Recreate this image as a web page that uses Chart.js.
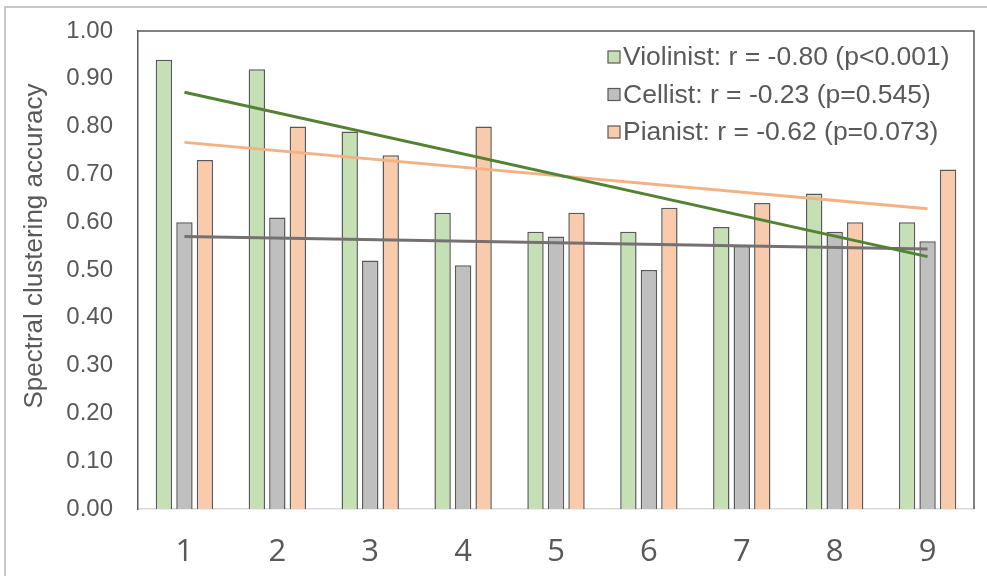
<!DOCTYPE html>
<html><head><meta charset="utf-8">
<script src="https://cdn.jsdelivr.net/npm/chart.js@4"></script>
<style>html,body{margin:0;padding:0;background:#fff;overflow:hidden;}</style>
</head><body>
<canvas id="c" width="987" height="576" style="display:block;width:987px;height:576px"></canvas>
<script>
const categories = ['1', '2', '3', '4', '5', '6', '7', '8', '9'];
const violinist = [0.94, 0.92, 0.79, 0.62, 0.58, 0.58, 0.59, 0.66, 0.60];
const cellist   = [0.60, 0.61, 0.52, 0.51, 0.57, 0.50, 0.55, 0.58, 0.56];
const pianist   = [0.73, 0.80, 0.74, 0.80, 0.62, 0.63, 0.64, 0.60, 0.71];
// trendline end values (at category 1 and category 9)
const trendViolinist = [0.872, 0.528];
const trendCellist   = [0.570, 0.544];
const trendPianist   = [0.767, 0.628];
const legendLabels = [
  'Violinist: r = -0.80 (p<0.001)',
  'Cellist: r = -0.23 (p=0.545)',
  'Pianist: r = -0.62 (p=0.073)'
];
const yTitle = 'Spectral clustering accuracy';

function endsOnly(e) {
  const a = categories.map(() => null);
  a[0] = e[0];
  a[a.length - 1] = e[1];
  return a;
}

const barBorder = '#595959';
const framePlugin = {
  id: 'frame',
  beforeDraw(chart) {
    const ctx = chart.ctx;
    ctx.save();
    ctx.fillStyle = '#ffffff';
    ctx.fillRect(0, 0, chart.width, chart.height);
    ctx.strokeStyle = '#c8c8c8';
    ctx.lineWidth = 2;
    ctx.beginPath();
    ctx.moveTo(5, chart.height);
    ctx.lineTo(5, 7);
    ctx.lineTo(chart.width, 7);
    ctx.stroke();
    ctx.restore();
  },
  afterDraw(chart) {
    const ctx = chart.ctx;
    const a = chart.chartArea;
    ctx.save();
    ctx.strokeStyle = '#5a5a5a';
    ctx.lineWidth = 1.5;
    ctx.beginPath();
    ctx.moveTo(a.left, a.top);
    ctx.lineTo(a.right, a.top);
    ctx.lineTo(a.right, a.bottom);
    ctx.stroke();
    // y-axis title
    ctx.save();
    ctx.translate(35, 246);
    ctx.rotate(-Math.PI / 2);
    ctx.font = '26px "Liberation Sans", Arial, sans-serif';
    ctx.fillStyle = '#595959';
    ctx.textAlign = 'center';
    ctx.textBaseline = 'middle';
    ctx.fillText(yTitle, 0, 0);
    ctx.restore();
    // legend
    ctx.font = '26.5px "Liberation Sans", Arial, sans-serif';
    ctx.textBaseline = 'middle';
    ctx.textAlign = 'left';
    for (let i = 0; i < 3; i++) {
      const ds = chart.data.datasets[i];
      const y = a.top + 26 + i * 37.5;
      const x = a.right - 366;
      ctx.fillStyle = ds.backgroundColor;
      ctx.fillRect(x, y - 6, 12, 12);
      ctx.strokeStyle = '#595959';
      ctx.lineWidth = 1.2;
      ctx.strokeRect(x, y - 6, 12, 12);
      ctx.fillStyle = '#595959';
      ctx.fillText(legendLabels[i], x + 15, y + 1);
    }
    ctx.restore();
  }
};

const barCommon = { borderColor: barBorder, borderWidth: 1.5, categoryPercentage: 0.662, barPercentage: 0.8, order: 2 };
const lineCommon = { type: 'line', pointRadius: 0, borderWidth: 3, spanGaps: true, fill: false, tension: 0 };

new Chart(document.getElementById('c'), {
  type: 'bar',
  data: {
    labels: categories,
    datasets: [
      Object.assign({ label: legendLabels[0], data: violinist, backgroundColor: '#c5e0b4' }, barCommon),
      Object.assign({ label: legendLabels[1], data: cellist, backgroundColor: '#bfbfbf' }, barCommon),
      Object.assign({ label: legendLabels[2], data: pianist, backgroundColor: '#f8cbad' }, barCommon),
      Object.assign({ label: 'trend Pianist', data: endsOnly(trendPianist), borderColor: '#f4b183', order: 1.5 }, lineCommon),
      Object.assign({ label: 'trend Cellist', data: endsOnly(trendCellist), borderColor: '#767171', order: 1.2 }, lineCommon),
      Object.assign({ label: 'trend Violinist', data: endsOnly(trendViolinist), borderColor: '#548235', order: 1 }, lineCommon)
    ]
  },
  options: {
    responsive: false,
    animation: false,
    devicePixelRatio: 1,
    layout: { padding: { left: 0, right: 13, top: 31, bottom: 0 } },
    plugins: { legend: { display: false }, tooltip: { enabled: false } },
    scales: {
      x: {
        grid: { display: false, drawTicks: false },
        border: { display: true, color: '#d9d9d9', width: 1.5 },
        ticks: { color: '#595959', padding: 25, font: { family: '"Open Sans", sans-serif', size: 31 } },
        afterFit(s) { s.height = 67; s.paddingLeft = 0; s.paddingRight = 0; }
      },
      y: {
        min: 0, max: 1,
        grid: { display: false, drawTicks: false },
        border: { display: true, color: '#5a5a5a', width: 1.5 },
        ticks: {
          stepSize: 0.1, color: '#595959', padding: 25,
          font: { family: '"Liberation Sans", Arial, sans-serif', size: 24 },
          callback: v => Number(v).toFixed(2)
        },
        afterFit(s) { s.width = 138; s.paddingTop = 0; s.paddingBottom = 0; }
      }
    }
  },
  plugins: [framePlugin]
});
</script>
</body></html>
